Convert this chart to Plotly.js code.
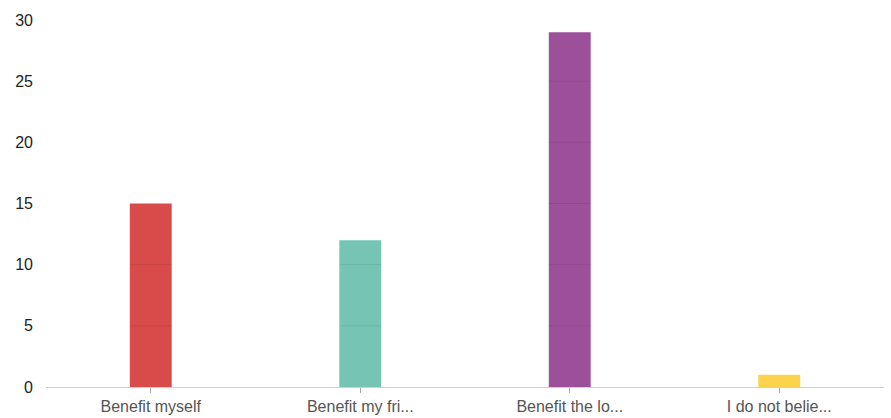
<!DOCTYPE html>
<html>
<head>
<meta charset="utf-8">
<script src="https://cdn.plot.ly/plotly-3.0.1.min.js"></script>
<style>
html,body{margin:0;padding:0;background:#fff;}
#chart{width:891px;height:418px;}
</style>
</head>
<body>
<div id="chart"></div>
<script>
var categories = ["Benefit myself", "Benefit my fri...", "Benefit the lo...", "I do not belie..."];
var values = [15, 12, 29, 1];
var barColors = ["#D94B4B", "#76C5B4", "#9C509A", "#FCD34B"];
var yTicks = [0, 5, 10, 15, 20, 25, 30];

var BAR_WIDTH = 0.2;

var trace = {
  type: "bar",
  x: categories,
  y: values,
  width: BAR_WIDTH,
  marker: {color: barColors},
  hoverinfo: "x+y"
};

// grid lines only visible where they cross the bars (drawn above, darkening)
var gridShapes = [];
values.forEach(function(val, i){
  yTicks.forEach(function(t){
    if (t > 0 && t < val) {
      gridShapes.push({type: "line", xref: "x", yref: "y",
        x0: i - BAR_WIDTH / 2, x1: i + BAR_WIDTH / 2, y0: t, y1: t,
        layer: "above", line: {color: "rgba(0,0,0,0.08)", width: 1}});
    }
  });
});

var layout = {
  width: 891,
  height: 418,
  margin: {l: 46, r: 7, t: 20, b: 31},
  paper_bgcolor: "#fff",
  plot_bgcolor: "#fff",
  showlegend: false,
  bargap: 0.8,
  font: {family: "Arial, 'Liberation Sans', sans-serif", size: 16, color: "#333"},
  xaxis: {
    type: "category",
    showline: true,
    linecolor: "#cfcfcf",
    linewidth: 1,
    showgrid: false,
    ticks: "outside",
    ticklen: 5,
    tickcolor: "#aaa",
    tickfont: {size: 16, color: "#555"},
    fixedrange: true
  },
  yaxis: {
    range: [0, 30],
    tickvals: yTicks,
    showgrid: false,
    zeroline: false,
    showline: false,
    ticks: "",
    ticklabelstandoff: 12,
    tickfont: {size: 16, color: "#222"},
    fixedrange: true
  },
  shapes: gridShapes
};

Plotly.newPlot("chart", [trace], layout, {displayModeBar: false, staticPlot: true});
</script>
</body>
</html>
